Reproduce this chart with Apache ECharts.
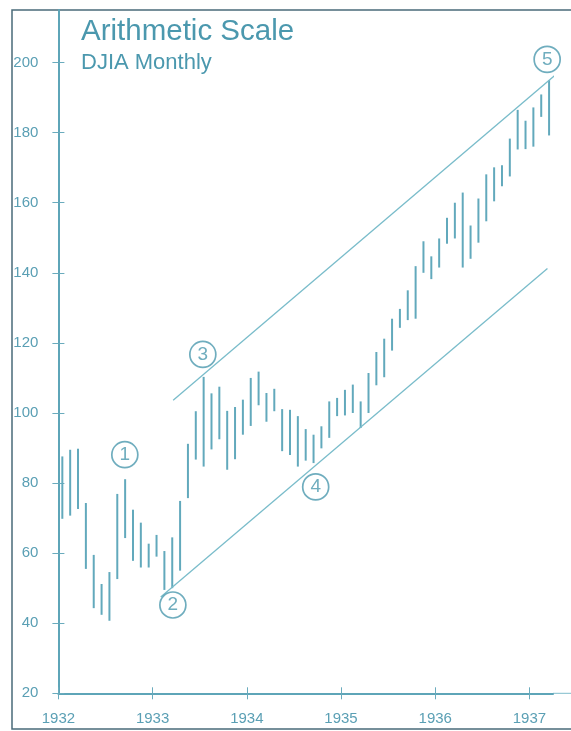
<!DOCTYPE html>
<html>
<head>
<meta charset="utf-8">
<script src="https://cdn.jsdelivr.net/npm/echarts@6/dist/echarts.min.js"></script>
<style>
  html, body { margin: 0; padding: 0; background: #fff; }
  #main { width: 571px; height: 731px; }
</style>
</head>
<body>
<div id="main"></div>
<script>
// monthly DJIA high / low, Jan 1932 .. Mar 1937
const startYear = 1932;
const highs = [
  87.6, 89.5, 89.8, 74.3, 59.5, 51.2, 54.6, 76.9, 81.1, 72.4, 68.7, 62.7,
  65.2, 60.6, 64.5, 74.9, 91.2, 100.5, 110.3, 105.6, 107.5, 100.6, 101.7, 103.8,
  110.0, 111.8, 105.7, 106.9, 101.1, 100.9, 99.1, 95.4, 93.8, 96.2, 103.3, 104.3,
  106.6, 108.1, 103.3, 111.4, 117.4, 121.2, 126.9, 129.7, 135.0, 141.9, 149.0, 144.7,
  149.8, 155.7, 160.0, 162.9, 153.5, 161.2, 168.1, 170.1, 170.7, 178.3, 186.5, 183.4,
  187.2, 190.9, 195.0
];
const lows = [
  69.8, 70.7, 72.6, 55.5, 44.3, 42.4, 40.7, 52.6, 64.3, 57.8, 55.9, 55.9,
  59.0, 49.5, 50.0, 55.0, 75.7, 86.7, 84.7, 89.6, 92.5, 83.8, 86.8, 93.8,
  96.3, 102.2, 97.5, 100.5, 89.1, 88.0, 84.7, 86.4, 85.7, 89.9, 92.9, 99.1,
  99.3, 100.0, 95.7, 100.0, 107.9, 110.2, 117.8, 124.3, 126.5, 126.9, 140.0, 138.2,
  141.5, 148.3, 149.8, 141.5, 144.0, 148.6, 154.7, 160.4, 164.7, 167.5, 175.2, 175.3,
  176.0, 184.5, 179.2
];
const yearTicks = [1932, 1933, 1934, 1935, 1936, 1937];
const priceTicks = [20, 40, 60, 80, 100, 120, 140, 160, 180, 200];

// trend channel drawn on the chart
const upperChannel = [[1933.218, 103.6], [1937.326, 197.6]];
const lowerChannel = [[1933.086, 47.5], [1937.191, 141.2]];

// wave count markers
const waveLabels = ['1', '2', '3', '4', '5'];
const wavePoints = [
  [1932.705, 88.1],
  [1933.215, 45.2],
  [1933.533, 116.7],
  [1934.731, 78.9],
  [1937.188, 200.9]
];

const teal = '#4b98ae';
const barColor = '#62a9bc';
const lineColor = '#79bcca';
const font = '"Liberation Sans", Arial, Helvetica, sans-serif';

const bars = highs.map((h, i) => [startYear + (i + 0.5) / 12, lows[i], h]);

const chart = echarts.init(document.getElementById('main'));

const baseX = {
  type: 'value', min: 1932, max: 1937.25,
  splitLine: {show: false}
};
const baseY = {
  type: 'value', min: 20, max: 215,
  splitLine: {show: false}
};

chart.setOption({
  animation: false,
  backgroundColor: '#fff',
  title: [
    {
      text: 'Arithmetic Scale', left: 81, top: 17, padding: 0,
      textStyle: {fontSize: 29.5, fontWeight: 'normal', color: teal, fontFamily: font}
    },
    {
      text: 'DJIA Monthly', left: 81, top: 52, padding: 0,
      textStyle: {fontSize: 22, fontWeight: 'normal', color: teal, fontFamily: font}
    }
  ],
  grid: {left: 58.4, right: 18, top: 10, bottom: 37.7},
  xAxis: [
    Object.assign({}, baseX, {
      position: 'bottom',
      axisLine: {show: true, lineStyle: {color: '#5ea5b8', width: 2}},
      axisTick: {show: true, inside: false, length: 6, customValues: yearTicks,
        lineStyle: {color: '#6aabbd', width: 1}},
      axisLabel: {customValues: yearTicks, margin: 18, color: '#5a9fb4',
        fontSize: 15, fontFamily: font, formatter: v => String(v)}
    }),
    Object.assign({}, baseX, {
      position: 'bottom',
      axisLine: {show: false},
      axisTick: {show: true, inside: true, length: 6, customValues: yearTicks,
        lineStyle: {color: '#6aabbd', width: 1}},
      axisLabel: {show: false}
    })
  ],
  yAxis: [
    Object.assign({}, baseY, {
      position: 'left',
      axisLine: {show: true, lineStyle: {color: '#5ea5b8', width: 2}},
      axisTick: {show: true, inside: false, length: 6, customValues: priceTicks,
        lineStyle: {color: '#6aabbd', width: 1}},
      axisLabel: {customValues: priceTicks, margin: 20, color: '#5a9fb4',
        fontSize: 15, fontFamily: font}
    }),
    Object.assign({}, baseY, {
      position: 'left',
      axisLine: {show: false},
      axisTick: {show: true, inside: true, length: 6, customValues: priceTicks,
        lineStyle: {color: '#6aabbd', width: 1}},
      axisLabel: {show: false}
    })
  ],
  graphic: [
    {
      type: 'rect', silent: true,
      shape: {x: 12, y: 10, width: 640, height: 719},
      style: {fill: 'none', stroke: '#4a6b79', lineWidth: 1.5}
    },
    {
      // thin extension of the baseline past the end of the axis
      type: 'line', silent: true,
      shape: {x1: 553, y1: 693.3, x2: 571, y2: 693.3},
      style: {stroke: '#7fbccb', lineWidth: 1}
    }
  ],
  series: [
    {
      type: 'custom',
      data: bars,
      encode: {x: 0, y: [1, 2]},
      renderItem: (params, api) => {
        const x = api.value(0);
        const lo = api.coord([x, api.value(1)]);
        const hi = api.coord([x, api.value(2)]);
        return {
          type: 'line',
          shape: {x1: lo[0], y1: lo[1], x2: hi[0], y2: hi[1]},
          style: {stroke: barColor, lineWidth: 2}
        };
      }
    },
    {
      type: 'line', data: upperChannel, symbol: 'none', silent: true,
      lineStyle: {color: lineColor, width: 1.3}
    },
    {
      type: 'line', data: lowerChannel, symbol: 'none', silent: true,
      lineStyle: {color: lineColor, width: 1.3}
    },
    {
      type: 'scatter',
      data: wavePoints.map((p, i) => ({value: p, name: waveLabels[i]})),
      symbol: 'circle', symbolSize: 26, silent: true,
      itemStyle: {color: '#fff', borderColor: teal, borderWidth: 1.7},
      label: {
        show: true, position: 'inside', formatter: p => p.name,
        color: teal, fontSize: 19, fontFamily: font, padding: [2, 0, 0, 0]
      },
      z: 5
    }
  ]
});
</script>
</body>
</html>
